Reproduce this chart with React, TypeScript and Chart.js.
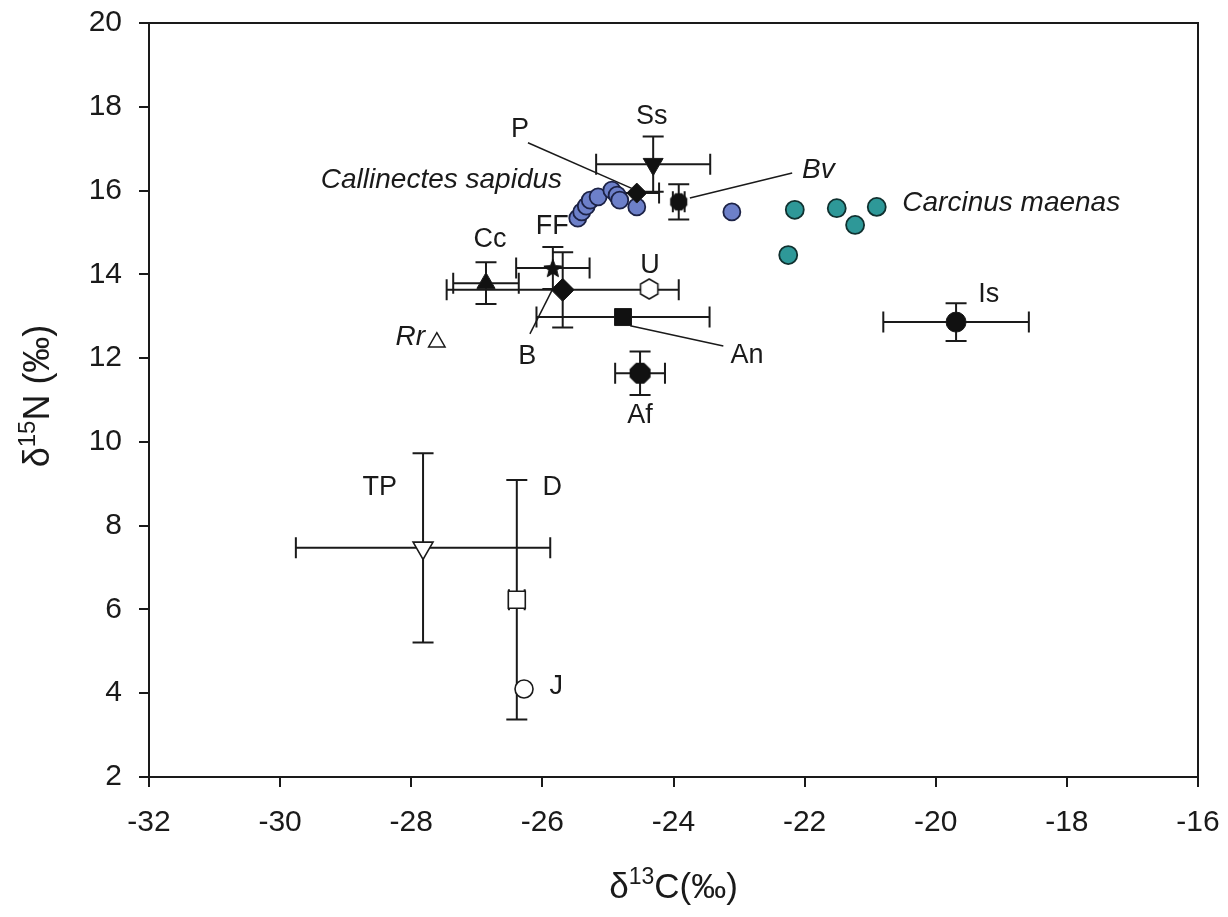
import React, { useEffect, useRef } from 'react';
import { Chart, registerables } from 'chart.js';

Chart.register(...registerables);

// ---------- data ----------
const xTickValues = [-32, -30, -28, -26, -24, -22, -20, -18, -16];
const yTickValues = [2, 4, 6, 8, 10, 12, 14, 16, 18, 20];

const callinectesX = [-25.46, -25.4, -25.33, -25.27, -25.15, -24.94, -24.86, -24.82, -24.56, -23.11];
const callinectesY = [15.34, 15.49, 15.63, 15.77, 15.85, 16.01, 15.89, 15.77, 15.61, 15.49];

const carcinusX = [-22.15, -21.51, -21.23, -20.9, -22.25];
const carcinusY = [15.54, 15.58, 15.18, 15.61, 14.46];

const speciesCodes = ['Ss', 'P', 'Bv', 'Cc', 'FF', 'B', 'U', 'An', 'Af', 'Is', 'Rr', 'TP', 'D', 'J'];
const speciesX = [-24.31, -24.56, -23.92, -26.86, -25.84, -25.69, -24.37, -24.77, -24.51, -19.69, -27.61, -27.82, -26.39, -26.28];
const speciesY = [16.63, 15.94, 15.73, 13.79, 14.15, 13.63, 13.65, 12.98, 11.64, 12.86, 12.38, 7.47, 6.23, 4.1];
const speciesXErr = [0.87, 0.34, 0.09, 0.5, 0.56, 1.77, 0, 1.32, 0.38, 1.11, 0, 1.94, 0.12, 0];
const speciesYErr = [0.66, 0, 0.42, 0.5, 0.5, 0.9, 0, 0, 0.52, 0.45, 0, 2.26, 2.86, 0];

// ---------- annotations (label text + anchor in data units) ----------
const labelTexts = ['Ss', 'P', 'Callinectes sapidus', 'Bv', 'Carcinus maenas', 'FF', 'Cc', 'U', 'Rr', 'B', 'An', 'Af', 'Is', 'TP', 'D', 'J'];
const labelAnchorX = [-24.33, -26.34, -25.7, -22.04, -20.51, -25.85, -26.8, -24.36, -27.79, -26.23, -22.88, -24.51, -19.19, -28.48, -25.85, -25.79];
const labelAnchorY = [17.76, 17.45, 16.25, 16.49, 15.7, 15.15, 14.82, 14.22, 12.5, 12.03, 12.07, 10.64, 13.51, 8.92, 8.92, 4.15];
const labelAligns = ['center', 'center', 'right', 'left', 'left', 'center', 'center', 'center', 'right', 'center', 'center', 'center', 'center', 'center', 'center', 'center'];
const labelItalic = [false, false, true, true, true, false, false, false, true, false, false, false, false, false, false, false];

const leaderLines = [
  [-26.22, 17.14, -24.62, 16.04], // P
  [-23.75, 15.82, -22.19, 16.42], // Bv
  [-26.19, 12.58, -25.85, 13.63], // B
  [-24.66, 12.77, -23.24, 12.29], // An
];

const FONT = '"Liberation Sans", Arial, Helvetica, sans-serif';
const INK = '#1a1a1a';

function makePolygon(n: number, r: number, fill: string, stroke: string, lw: number, startAngle: number) {
  const size = Math.ceil(2 * r + lw + 2);
  const c = document.createElement('canvas');
  c.width = size;
  c.height = size;
  const g = c.getContext('2d')!;
  const cx = size / 2, cy = size / 2;
  g.beginPath();
  for (let k = 0; k < n; k++) {
    const a = startAngle + (k * 2 * Math.PI) / n;
    const px = cx + r * Math.cos(a);
    const py = cy + r * Math.sin(a);
    if (k === 0) g.moveTo(px, py); else g.lineTo(px, py);
  }
  g.closePath();
  g.fillStyle = fill;
  g.fill();
  g.lineWidth = lw;
  g.strokeStyle = stroke;
  g.stroke();
  return c;
}

function makeStar(rOut: number, rIn: number, fill: string) {
  const size = Math.ceil(2 * rOut + 3);
  const c = document.createElement('canvas');
  c.width = size;
  c.height = size;
  const g = c.getContext('2d')!;
  const cx = size / 2, cy = size / 2 + 1;
  g.beginPath();
  for (let k = 0; k < 10; k++) {
    const r = k % 2 === 0 ? rOut : rIn;
    const a = -Math.PI / 2 + (k * Math.PI) / 5;
    const px = cx + r * Math.cos(a);
    const py = cy + r * Math.sin(a);
    if (k === 0) g.moveTo(px, py); else g.lineTo(px, py);
  }
  g.closePath();
  g.fillStyle = fill;
  g.fill();
  g.lineWidth = 1;
  g.strokeStyle = fill;
  g.stroke();
  return c;
}

function drawParts(ctx: CanvasRenderingContext2D, parts: { t: string; size: number; dy: number }[], cx: number, baseline: number) {
  let total = 0;
  parts.forEach((p) => {
    ctx.font = `${p.size}px ${FONT}`;
    total += ctx.measureText(p.t).width;
  });
  let x = cx - total / 2;
  ctx.textAlign = 'left';
  ctx.textBaseline = 'alphabetic';
  parts.forEach((p) => {
    ctx.font = `${p.size}px ${FONT}`;
    ctx.fillText(p.t, x, baseline + p.dy);
    x += ctx.measureText(p.t).width;
  });
}

export default function App() {
  const ref = useRef<HTMLCanvasElement | null>(null);

  useEffect(() => {
    if (!ref.current) return;

    const octSmall = makePolygon(8, 8.8, '#111', '#111', 1, Math.PI / 8);
    const octBig = makePolygon(8, 10.8, '#111', '#111', 1, Math.PI / 8);
    const hexOpen = makePolygon(6, 10, '#ffffff', INK, 1.6, -Math.PI / 2);
    const star = makeStar(9.5, 4.2, '#111');

    const speciesStyles: any[] = ['triangle', 'rectRot', octSmall, 'triangle', star, 'rectRot', hexOpen, 'rect', octBig, 'circle', 'triangle', 'triangle', 'rect', 'circle'];
    const speciesRadius = [11.5, 10, 9, 10.5, 9, 11.5, 10, 12, 11, 10, 9.5, 11.5, 12, 9];
    const speciesRot = [180, 0, 0, 0, 0, 0, 0, 0, 0, 0, 0, 180, 0, 0];
    const speciesFill = ['#111', '#111', '#111', '#111', '#111', '#111', '#fff', '#111', '#111', '#111', '#fff', '#fff', '#fff', '#fff'];
    const speciesBorderW = [1, 1, 1, 1, 1, 1, 1.6, 1, 1, 1, 1.5, 1.6, 1.6, 1.6];

    const overlay = {
      id: 'overlay',
      beforeDatasetsDraw(chart: any) {
        const { ctx, chartArea } = chart;
        const sx = chart.scales.x;
        const sy = chart.scales.y;
        ctx.save();
        ctx.strokeStyle = INK;
        ctx.lineWidth = 2;
        ctx.beginPath();
        ctx.moveTo(chartArea.left, chartArea.top);
        ctx.lineTo(chartArea.right, chartArea.top);
        ctx.lineTo(chartArea.right, chartArea.bottom);
        ctx.stroke();

        // leader lines
        ctx.lineWidth = 1.5;
        leaderLines.forEach(([x1, y1, x2, y2]) => {
          ctx.beginPath();
          ctx.moveTo(sx.getPixelForValue(x1), sy.getPixelForValue(y1));
          ctx.lineTo(sx.getPixelForValue(x2), sy.getPixelForValue(y2));
          ctx.stroke();
        });

        // error bars
        ctx.lineWidth = 2;
        const cap = 10.5;
        speciesX.forEach((vx, i) => {
          const vy = speciesY[i];
          const px = sx.getPixelForValue(vx);
          const py = sy.getPixelForValue(vy);
          const ex = speciesXErr[i];
          const ey = speciesYErr[i];
          ctx.beginPath();
          if (ex > 0) {
            const l = sx.getPixelForValue(vx - ex);
            const r = sx.getPixelForValue(vx + ex);
            ctx.moveTo(l, py); ctx.lineTo(r, py);
            ctx.moveTo(l, py - cap); ctx.lineTo(l, py + cap);
            ctx.moveTo(r, py - cap); ctx.lineTo(r, py + cap);
          }
          if (ey > 0) {
            const t = sy.getPixelForValue(vy + ey);
            const b = sy.getPixelForValue(vy - ey);
            ctx.moveTo(px, t); ctx.lineTo(px, b);
            ctx.moveTo(px - cap, t); ctx.lineTo(px + cap, t);
            ctx.moveTo(px - cap, b); ctx.lineTo(px + cap, b);
          }
          ctx.stroke();
        });
        ctx.restore();
      },
      afterDatasetsDraw(chart: any) {
        const { ctx } = chart;
        const sx = chart.scales.x;
        const sy = chart.scales.y;
        ctx.save();
        ctx.fillStyle = INK;
        ctx.textBaseline = 'middle';
        labelTexts.forEach((t, i) => {
          ctx.font = `${labelItalic[i] ? 'italic ' : ''}${labelItalic[i] ? 28 : 27}px ${FONT}`;
          ctx.textAlign = labelAligns[i];
          ctx.fillText(t, sx.getPixelForValue(labelAnchorX[i]), sy.getPixelForValue(labelAnchorY[i]));
        });
        ctx.restore();
      },
      afterDraw(chart: any) {
        const { ctx, chartArea } = chart;
        ctx.save();
        ctx.fillStyle = INK;
        // x title
        drawParts(
          ctx,
          [
            { t: 'δ', size: 35, dy: 0 },
            { t: '13', size: 23, dy: -14 },
            { t: 'C(‰)', size: 35, dy: 0 },
          ],
          (chartArea.left + chartArea.right) / 2,
          898
        );
        // y title
        ctx.translate(49, (chartArea.top + chartArea.bottom) / 2 - 4);
        ctx.rotate(-Math.PI / 2);
        drawParts(
          ctx,
          [
            { t: 'δ', size: 36, dy: 0 },
            { t: '15', size: 24, dy: -14 },
            { t: 'N (‰)', size: 36, dy: 0 },
          ],
          0,
          0
        );
        ctx.restore();
      },
    };

    const tickFont = { family: FONT, size: 30 };

    const chart = new Chart(ref.current, {
      type: 'scatter',
      data: {
        datasets: [
          {
            label: 'species',
            data: speciesX.map((x, i) => ({ x, y: speciesY[i] })),
            pointStyle: speciesStyles,
            pointRadius: speciesRadius,
            pointRotation: speciesRot,
            pointBackgroundColor: speciesFill,
            pointBorderColor: INK,
            pointBorderWidth: speciesBorderW,
          } as any,
          {
            label: 'Callinectes sapidus',
            data: callinectesX.map((x, i) => ({ x, y: callinectesY[i] })),
            pointRadius: 8.5,
            pointBackgroundColor: '#6d80c9',
            pointBorderColor: '#1c2246',
            pointBorderWidth: 1.8,
          },
          {
            label: 'Carcinus maenas',
            data: carcinusX.map((x, i) => ({ x, y: carcinusY[i] })),
            pointRadius: 9,
            pointBackgroundColor: '#2e9898',
            pointBorderColor: '#10302f',
            pointBorderWidth: 1.8,
          },
        ],
      },
      options: {
        animation: false,
        responsive: false,
        maintainAspectRatio: false,
        events: [],
        layout: { padding: { left: 0, top: 23, right: 30, bottom: 0 } },
        plugins: { legend: { display: false }, tooltip: { enabled: false } },
        scales: {
          x: {
            type: 'linear',
            min: xTickValues[0],
            max: xTickValues[xTickValues.length - 1],
            afterBuildTicks: (s: any) => {
              s.ticks = xTickValues.map((v) => ({ value: v }));
            },
            ticks: { font: tickFont, color: INK, padding: 18, maxRotation: 0 },
            grid: { drawOnChartArea: false, drawTicks: true, tickLength: 10, color: INK, lineWidth: 2 },
            border: { display: true, color: INK, width: 2 },
            afterFit: (s: any) => {
              s.height = 140;
              s.paddingLeft = 0;
              s.paddingRight = 0;
              s.paddingTop = 0;
              s.paddingBottom = 0;
            },
          },
          y: {
            type: 'linear',
            min: yTickValues[0],
            max: yTickValues[yTickValues.length - 1],
            afterBuildTicks: (s: any) => {
              s.ticks = yTickValues.map((v) => ({ value: v }));
            },
            ticks: { font: tickFont, color: INK, padding: 17 },
            grid: { drawOnChartArea: false, drawTicks: true, tickLength: 10, color: INK, lineWidth: 2 },
            border: { display: true, color: INK, width: 2 },
            afterFit: (s: any) => {
              s.width = 149;
              s.paddingLeft = 0;
              s.paddingRight = 0;
              s.paddingTop = 0;
              s.paddingBottom = 0;
            },
          },
        },
      },
      plugins: [overlay],
    });

    return () => chart.destroy();
  }, []);

  return (
    <div style={{ position: 'absolute', left: 0, top: 0, width: 1228, height: 917, background: '#fff' }}>
      <canvas ref={ref} width={1228} height={917} style={{ display: 'block' }} />
    </div>
  );
}
